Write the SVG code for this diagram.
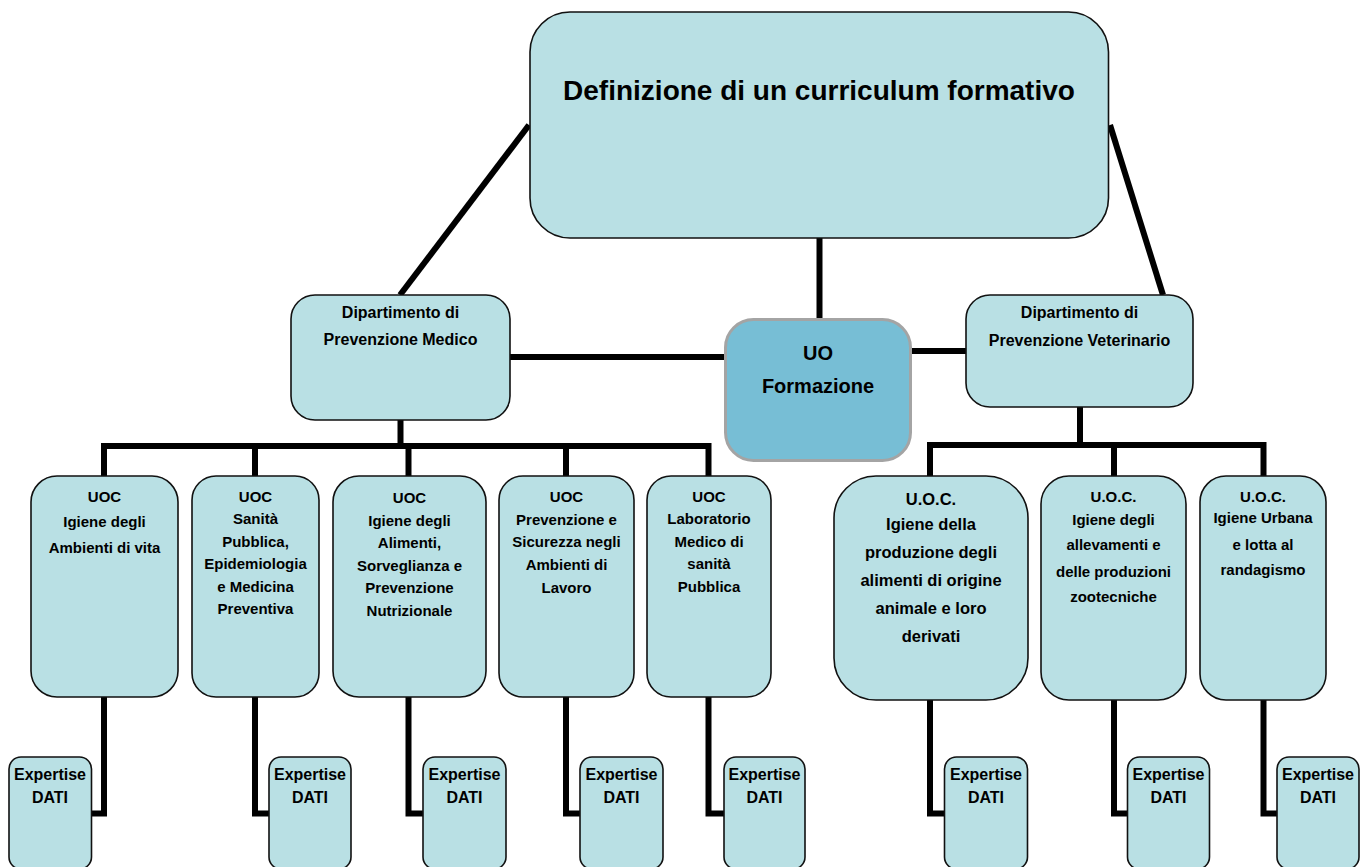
<svg xmlns="http://www.w3.org/2000/svg" width="1368" height="867" viewBox="0 0 1368 867">
<style>
.box{fill:#b9e0e4;stroke:#111;stroke-width:1.6}
.uo{fill:#77bed5;stroke:#a4a4a4;stroke-width:3}
.ln{stroke:#000;stroke-width:6;fill:none;stroke-linecap:butt;stroke-linejoin:miter}
text{font-family:"Liberation Sans",Arial,sans-serif;font-weight:bold;fill:#000;text-anchor:middle}
.t15{font-size:15px}
.t16{font-size:16px}
.t165{font-size:16.5px}
.t20{font-size:20px}
.ex{font-size:16px}
</style>
<rect width="1368" height="867" fill="#fff"/>
<g id="connectors">
<line class="ln" x1="529" y1="125" x2="400" y2="295"/>
<line class="ln" x1="1110" y1="125" x2="1163" y2="295"/>
<line class="ln" x1="819.5" y1="238" x2="819.5" y2="320"/>
<line class="ln" x1="510" y1="357" x2="726" y2="357"/>
<line class="ln" x1="910" y1="351" x2="966" y2="351"/>
<line class="ln" x1="400.5" y1="420" x2="400.5" y2="446"/>
<polyline class="ln" points="104,476 104,446 708.5,446 708.5,476"/>
<line class="ln" x1="255" y1="446" x2="255" y2="476"/>
<line class="ln" x1="408.5" y1="446" x2="408.5" y2="476"/>
<line class="ln" x1="566" y1="446" x2="566" y2="476"/>
<line class="ln" x1="1080" y1="407" x2="1080" y2="445"/>
<polyline class="ln" points="930,476 930,445 1263.5,445 1263.5,476"/>
<line class="ln" x1="1114" y1="445" x2="1114" y2="476"/>
<polyline class="ln" points="104,697 104,813.5 91,813.5"/>
<polyline class="ln" points="255,697 255,813.5 270,813.5"/>
<polyline class="ln" points="408.5,697 408.5,813.5 424,813.5"/>
<polyline class="ln" points="566,697 566,813.5 581,813.5"/>
<polyline class="ln" points="708.5,697 708.5,813.5 725,813.5"/>
<polyline class="ln" points="930,700 930,813.5 945,813.5"/>
<polyline class="ln" points="1114,700 1114,813.5 1128,813.5"/>
<polyline class="ln" points="1263.5,700 1263.5,813.5 1277,813.5"/>
</g>
<g id="main">
<rect class="box" x="530" y="12" width="578.5" height="226" rx="40"/>
<text x="819" y="100" style="font-size:28px">Definizione di un curriculum formativo</text>
</g>
<g id="dip-medico">
<rect class="box" x="291" y="295" width="219" height="125" rx="24"/>
<text class="t16" x="400.5" y="318">Dipartimento di</text>
<text class="t16" x="400.5" y="345">Prevenzione Medico</text>
</g>
<g id="uo-formazione">
<rect class="uo" x="725.5" y="319.5" width="185" height="141" rx="28"/>
<text class="t20" x="818" y="360">UO</text>
<text class="t20" x="818" y="393">Formazione</text>
</g>
<g id="dip-veterinario">
<rect class="box" x="966" y="295" width="227" height="112" rx="24"/>
<text class="t16" x="1079.5" y="318">Dipartimento di</text>
<text class="t16" x="1079.5" y="346">Prevenzione Veterinario</text>
</g>
<g id="uoc1">
<rect class="box" x="31" y="476" width="147" height="221" rx="26"/>
<text class="t15" x="104.5" y="502">UOC</text>
<text class="t15" x="104.5" y="527">Igiene degli</text>
<text class="t15" x="104.5" y="553">Ambienti di vita</text>
</g>
<g id="uoc2">
<rect class="box" x="192" y="476" width="127" height="221" rx="24"/>
<text class="t15" x="255.5" y="502">UOC</text>
<text class="t15" x="255.5" y="524">Sanità</text>
<text class="t15" x="255.5" y="547">Pubblica,</text>
<text class="t15" x="255.5" y="569">Epidemiologia</text>
<text class="t15" x="255.5" y="592">e Medicina</text>
<text class="t15" x="255.5" y="614">Preventiva</text>
</g>
<g id="uoc3">
<rect class="box" x="333" y="476" width="153" height="221" rx="26"/>
<text class="t15" x="409.5" y="503">UOC</text>
<text class="t15" x="409.5" y="526">Igiene degli</text>
<text class="t15" x="409.5" y="548">Alimenti,</text>
<text class="t15" x="409.5" y="571">Sorveglianza e</text>
<text class="t15" x="409.5" y="593">Prevenzione</text>
<text class="t15" x="409.5" y="616">Nutrizionale</text>
</g>
<g id="uoc4">
<rect class="box" x="499" y="476" width="135" height="221" rx="24"/>
<text class="t15" x="566.5" y="502">UOC</text>
<text class="t15" x="566.5" y="525">Prevenzione e</text>
<text class="t15" x="566.5" y="547">Sicurezza negli</text>
<text class="t15" x="566.5" y="570">Ambienti di</text>
<text class="t15" x="566.5" y="593">Lavoro</text>
</g>
<g id="uoc5">
<rect class="box" x="647" y="476" width="124" height="221" rx="24"/>
<text class="t15" x="709" y="502">UOC</text>
<text class="t15" x="709" y="524">Laboratorio</text>
<text class="t15" x="709" y="547">Medico di</text>
<text class="t15" x="709" y="569">sanità</text>
<text class="t15" x="709" y="592">Pubblica</text>
</g>
<g id="uoc6">
<rect class="box" x="834" y="476" width="194" height="224" rx="42"/>
<text class="t165" x="931" y="505">U.O.C.</text>
<text class="t165" x="931" y="530">Igiene della</text>
<text class="t165" x="931" y="558">produzione degli</text>
<text class="t165" x="931" y="586">alimenti di origine</text>
<text class="t165" x="931" y="614">animale e loro</text>
<text class="t165" x="931" y="642">derivati</text>
</g>
<g id="uoc7">
<rect class="box" x="1041" y="476" width="145" height="224" rx="28"/>
<text class="t15" x="1113.5" y="502">U.O.C.</text>
<text class="t15" x="1113.5" y="525">Igiene degli</text>
<text class="t15" x="1113.5" y="550">allevamenti e</text>
<text class="t15" x="1113.5" y="577">delle produzioni</text>
<text class="t15" x="1113.5" y="602">zootecniche</text>
</g>
<g id="uoc8">
<rect class="box" x="1200" y="476" width="126" height="224" rx="26"/>
<text class="t15" x="1263" y="502">U.O.C.</text>
<text class="t15" x="1263" y="523">Igiene Urbana</text>
<text class="t15" x="1263" y="550">e lotta al</text>
<text class="t15" x="1263" y="575">randagismo</text>
</g>
<g id="exp1"><rect class="box" x="9" y="757" width="82.5" height="112" rx="12"/><text class="ex" x="50" y="780">Expertise</text><text class="ex" x="50" y="803">DATI</text></g>
<g id="exp2"><rect class="box" x="269" y="757" width="82" height="112" rx="12"/><text class="ex" x="310" y="780">Expertise</text><text class="ex" x="310" y="803">DATI</text></g>
<g id="exp3"><rect class="box" x="423" y="757" width="83" height="112" rx="12"/><text class="ex" x="464.5" y="780">Expertise</text><text class="ex" x="464.5" y="803">DATI</text></g>
<g id="exp4"><rect class="box" x="580" y="757" width="83" height="112" rx="12"/><text class="ex" x="621.5" y="780">Expertise</text><text class="ex" x="621.5" y="803">DATI</text></g>
<g id="exp5"><rect class="box" x="724" y="757" width="81" height="112" rx="12"/><text class="ex" x="764.5" y="780">Expertise</text><text class="ex" x="764.5" y="803">DATI</text></g>
<g id="exp6"><rect class="box" x="944.5" y="757" width="83" height="112" rx="12"/><text class="ex" x="986" y="780">Expertise</text><text class="ex" x="986" y="803">DATI</text></g>
<g id="exp7"><rect class="box" x="1127.5" y="757" width="82" height="112" rx="12"/><text class="ex" x="1168.5" y="780">Expertise</text><text class="ex" x="1168.5" y="803">DATI</text></g>
<g id="exp8"><rect class="box" x="1277" y="757" width="82" height="112" rx="12"/><text class="ex" x="1318" y="780">Expertise</text><text class="ex" x="1318" y="803">DATI</text></g>
</svg>
